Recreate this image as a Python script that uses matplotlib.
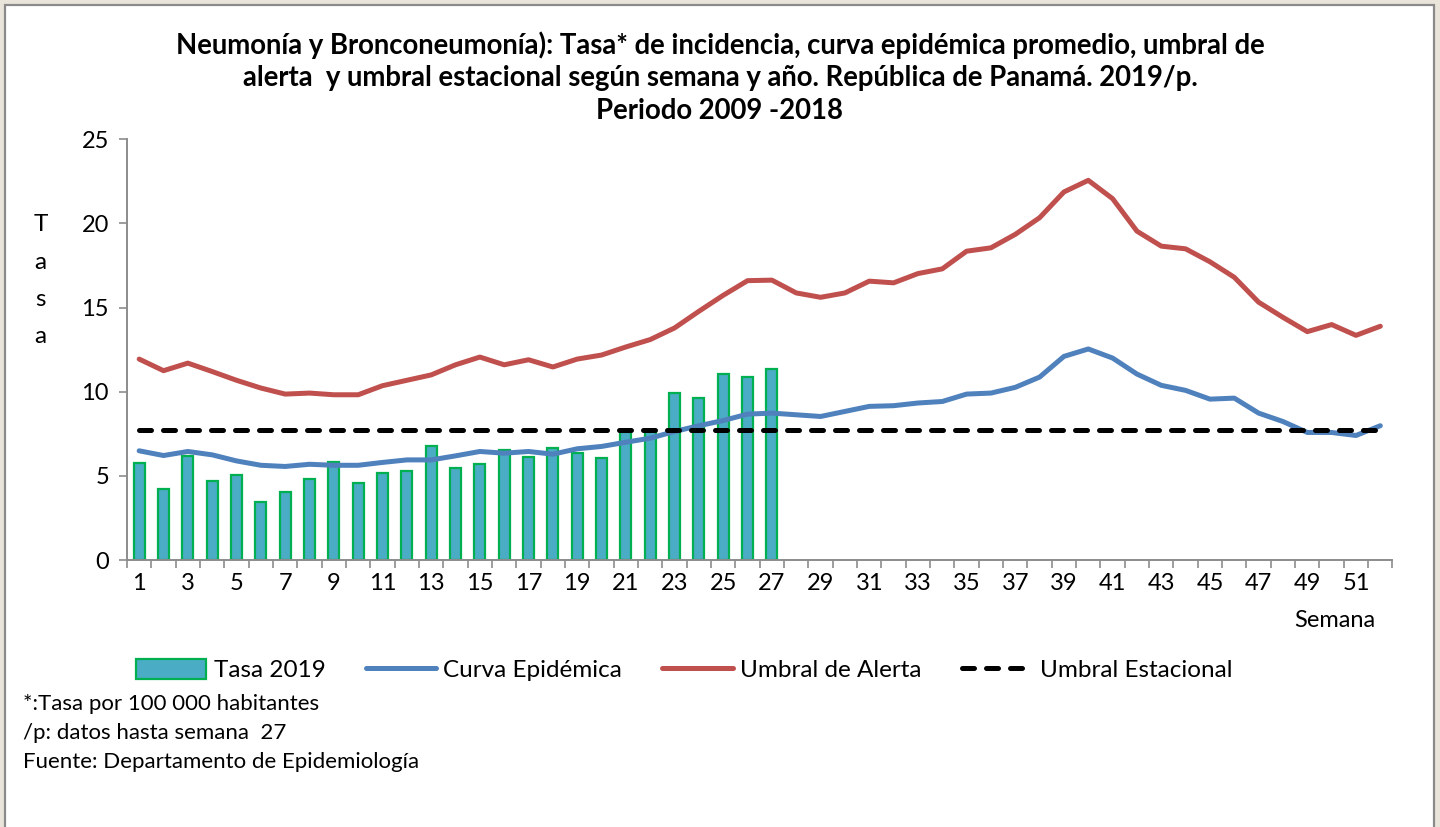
import numpy as np
import matplotlib
matplotlib.use("Agg")
import matplotlib.pyplot as plt
from matplotlib.patches import Patch, Rectangle
from matplotlib.lines import Line2D

plt.rcParams['font.family'] = ['Lato', 'DejaVu Sans']

semanas = np.arange(1, 53)

tasa_2019 = [5.75, 4.25, 6.2, 4.72, 5.08, 3.43, 4.05, 4.82, 5.8, 4.6,
             5.2, 5.3, 6.8, 5.48, 5.73, 6.55, 6.13, 6.65, 6.35, 6.05,
             7.6, 7.7, 9.9, 9.62, 11.03, 10.87, 11.33]

curva_epidemica = [6.49, 6.21, 6.45, 6.25, 5.89, 5.63, 5.56, 5.69, 5.63, 5.63,
                   5.8, 5.95, 5.95, 6.19, 6.45, 6.35, 6.45, 6.29, 6.61, 6.75,
                   7.0, 7.24, 7.64, 7.98, 8.29, 8.67, 8.73, 8.63, 8.53, 8.83,
                   9.13, 9.17, 9.33, 9.42, 9.86, 9.92, 10.26, 10.87, 12.1, 12.54,
                   12.0, 11.05, 10.38, 10.08, 9.56, 9.62, 8.73, 8.23, 7.58, 7.58,
                   7.4, 7.98]

umbral_alerta = [11.94, 11.25, 11.7, 11.2, 10.68, 10.22, 9.86, 9.92, 9.82, 9.82,
                 10.36, 10.68, 11.0, 11.6, 12.06, 11.6, 11.9, 11.47, 11.94, 12.18,
                 12.66, 13.1, 13.79, 14.78, 15.73, 16.6, 16.63, 15.87, 15.61, 15.87,
                 16.57, 16.47, 17.02, 17.3, 18.35, 18.55, 19.35, 20.34, 21.87, 22.56,
                 21.47, 19.54, 18.65, 18.49, 17.72, 16.8, 15.32, 14.42, 13.57, 13.99,
                 13.35, 13.89]

umbral_estacional = [7.7] * 52

titulo = ("Neumonía y Bronconeumonía): Tasa* de incidencia, curva epidémica promedio, umbral de\n"
          "alerta  y umbral estacional según semana y año. República de Panamá. 2019/p.\n"
          "Periodo 2009 -2018")
notas = ["*:Tasa por 100 000 habitantes",
         "/p: datos hasta semana  27",
         "Fuente: Departamento de Epidemiología"]

c_bar = '#4BACC6'
c_edge = '#00B050'
c_blue = '#4F81BD'
c_red = '#C0504D'

fig = plt.figure(figsize=(14.4, 8.27), dpi=100, facecolor='#EAE5DB')
# white sheet with grey frame, open at the bottom
fig.patches.append(Rectangle((0.0035, -0.02), 0.9923, 1.0142, transform=fig.transFigure,
                             facecolor='white', edgecolor='#8a8a8a', linewidth=1.6,
                             zorder=-10))

ax = fig.add_axes([0.0882, 0.3228, 0.8788, 0.5088])
ax.set_zorder(1)
ax.patch.set_alpha(0)

ax.bar(semanas[:len(tasa_2019)], tasa_2019, width=0.45, color=c_bar,
       edgecolor=c_edge, linewidth=1.6, zorder=2)
ax.plot(semanas, curva_epidemica, color=c_blue, lw=3.6, zorder=3,
        solid_capstyle='round', solid_joinstyle='round')
ax.plot(semanas, umbral_alerta, color=c_red, lw=3.6, zorder=3,
        solid_capstyle='round', solid_joinstyle='round')
ax.plot(semanas, umbral_estacional, color='black', lw=3.6, zorder=4,
        linestyle=(0, (2.4, 2.4)), dash_capstyle='round')

ax.set_xlim(0.5, 52.5)
ax.set_ylim(0, 25)
ax.set_yticks(np.arange(0, 26, 5))
ax.set_xticks(semanas[::2])
ax.set_xticks(np.arange(0.5, 53, 1), minor=True)
ax.tick_params(axis='x', which='major', length=0, pad=9, labelsize=17)
ax.tick_params(axis='x', which='minor', length=6, width=1.2, color='#8c8c8c')
ax.tick_params(axis='y', length=6, width=1.2, color='#8c8c8c', pad=7, labelsize=17)
for s in ['top', 'right']:
    ax.spines[s].set_visible(False)
for s in ['left', 'bottom']:
    ax.spines[s].set_color('#8c8c8c')
    ax.spines[s].set_linewidth(1.4)

fig.text(0.5, 0.962, titulo, ha='center', va='top', fontsize=19.8,
         fontweight='bold', linespacing=1.3)

for i, ch in enumerate("Tasa"):
    fig.text(0.028, 0.728 - i * 0.045, ch, ha='center', va='center', fontsize=17.5)

fig.text(0.927, 0.250, "Semana", ha='center', va='center', fontsize=17)

handles = [Patch(facecolor=c_bar, edgecolor=c_edge, linewidth=1.6),
           Line2D([0], [0], color=c_blue, lw=3.6, solid_capstyle='round'),
           Line2D([0], [0], color=c_red, lw=3.6, solid_capstyle='round'),
           Line2D([0], [0], color='black', lw=3.6, linestyle=(0, (2.4, 2.4)),
                  dash_capstyle='round')]
labels = ["Tasa 2019", "Curva Epidémica", "Umbral de Alerta", "Umbral Estacional"]
fig.legend(handles, labels, loc='center', bbox_to_anchor=(0.475, 0.19), ncol=4,
           frameon=False, fontsize=17.5, handlelength=2.9, handleheight=0.9,
           columnspacing=1.65, handletextpad=0.3)

for i, t in enumerate(notas):
    fig.text(0.016, 0.149 - i * 0.0355, t, ha='left', va='center', fontsize=16)

fig.savefig("out.png", dpi=100, facecolor=fig.get_facecolor())
